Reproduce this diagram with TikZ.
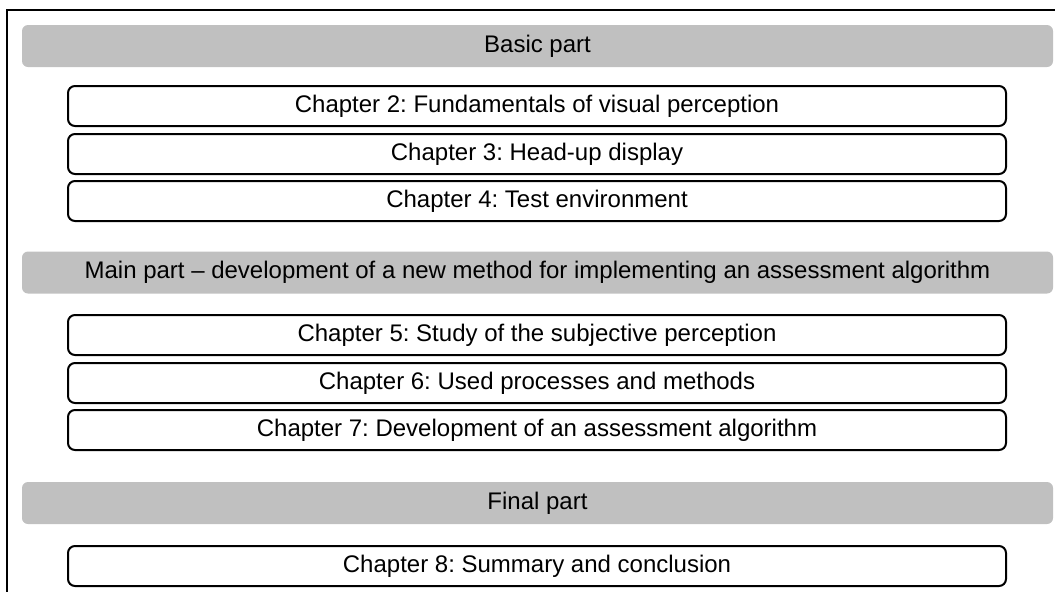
\documentclass[tikz,border=0pt]{standalone}
\usepackage{fontspec}
\setmainfont{Liberation Sans}
\frenchspacing
\definecolor{partgray}{RGB}{192,192,192}
\begin{document}
\begin{tikzpicture}[x=0.5pt,y=-0.5pt,
  font=\fontsize{12}{14}\selectfont,
  partbar/.style={fill=partgray, draw=none, rounded corners=3pt,
    minimum width=515.5pt, minimum height=21pt, inner sep=0pt},
  chapterbox/.style={draw=black, line width=1pt, fill=white, rounded corners=3.5pt,
    minimum width=469pt, minimum height=20pt, inner sep=0pt}]
  \useasboundingbox (0,0) rectangle (1055,591);
  % open frame: left and top edges only
  \draw[line width=1pt] (7,600) -- (7,10) -- (1060,10);

  % Basic part
  \node[partbar] (basic) at (537.5,46) {Basic part};
  \node[chapterbox] (ch2) at (537,106) {Chapter 2: Fundamentals of visual perception};
  \node[chapterbox] (ch3) at (537,154) {Chapter 3: Head-up display};
  \node[chapterbox] (ch4) at (537,201) {Chapter 4: Test environment};

  % Main part
  \node[partbar] (main) at (537.5,272.5) {Main part – development of a new method for implementing an assessment algorithm};
  \node[chapterbox] (ch5) at (537,335) {Chapter 5: Study of the subjective perception};
  \node[chapterbox] (ch6) at (537,383) {Chapter 6: Used processes and methods};
  \node[chapterbox] (ch7) at (537,430) {Chapter 7: Development of an assessment algorithm};

  % Final part
  \node[partbar] (final) at (537.5,503) {Final part};
  \node[chapterbox] (ch8) at (537,566) {Chapter 8: Summary and conclusion};
\end{tikzpicture}
\end{document}
